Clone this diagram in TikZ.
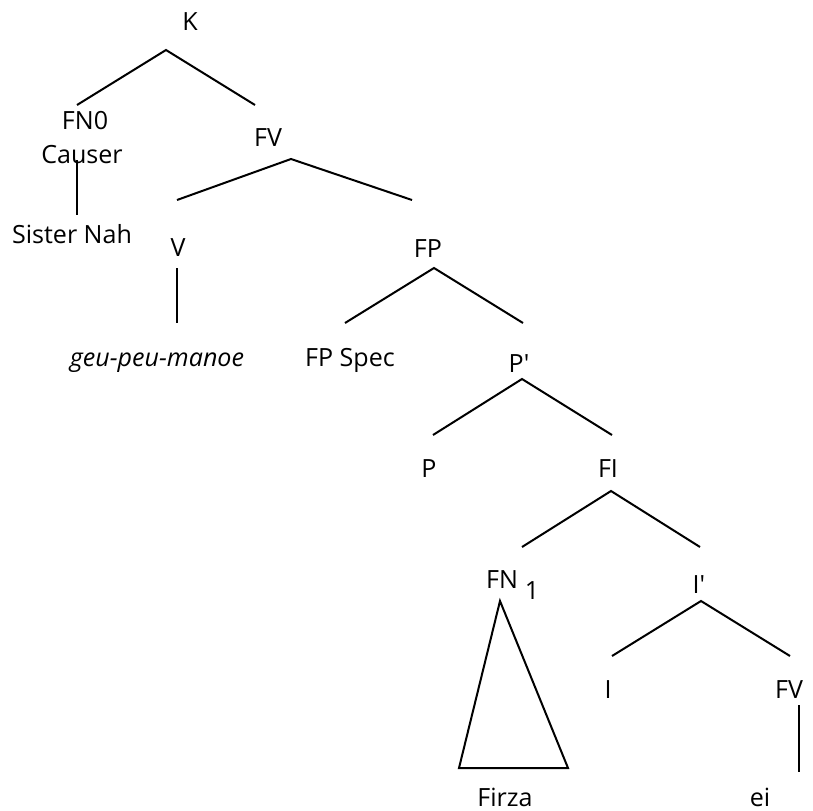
\documentclass[tikz,border=0pt]{standalone}
\usepackage{fontspec}
\setmainfont{Open Sans}
\usetikzlibrary{positioning}

\tikzset{
    lbl/.style={inner sep=0pt, anchor=base},
    branch/.style={line width=1.5pt, line join=miter}
}

\begin{document}
\begin{tikzpicture}[x=0.75pt, y=-0.75pt, font=\fontsize{18.8}{22}\selectfont]
    \useasboundingbox (0, 0) rectangle (813, 810);

    % labels, placed on their baselines
    \node[lbl] (K) at (190, 30) {K};
    \node[lbl] (FN0) at (85, 129) {FN0};
    \node[lbl] (Causer) at (82, 163) {Causer};
    \node[lbl] (Nah) at (72, 243) {Sister Nah};
    \node[lbl] (FVa) at (268, 146) {FV};
    \node[lbl] (V) at (178, 256) {V};
    \node[lbl] (manoe) at (157, 366) {\itshape geu-peu-manoe};
    \node[lbl] (FP) at (428, 257) {FP};
    \node[lbl] (Spec) at (350, 366) {FP Spec};
    \node[lbl] (Pbar) at (519, 372) {P\textquotesingle};
    \node[lbl] (P) at (429, 477) {P};
    \node[lbl] (FI) at (608, 477) {FI};
    \node[lbl] (FN) at (502, 588) {FN};
    \node[lbl] (idx) at (532, 599) {1};
    \node[lbl] (Ibar) at (699, 593) {I\textquotesingle};
    \node[lbl] (I) at (608, 698) {I};
    \node[lbl] (FVb) at (789, 698) {FV};
    \node[lbl] (Firza) at (505, 806) {Firza};
    \node[lbl] (ei) at (760, 806) {ei};

    % branch points
    \coordinate (K-t) at (166, 50);
    \coordinate (K-l) at (77, 105);
    \coordinate (K-r) at (255, 105);
    \coordinate (FN0-t) at (77, 160);
    \coordinate (Nah-b) at (77, 215);
    \coordinate (FVa-t) at (291, 159);
    \coordinate (FVa-l) at (177, 200);
    \coordinate (FVa-r) at (412, 200);
    \coordinate (V-t) at (177, 268);
    \coordinate (V-b) at (177, 323);
    \coordinate (FP-t) at (434, 268);
    \coordinate (FP-l) at (345, 323);
    \coordinate (FP-r) at (523, 323);
    \coordinate (Pbar-t) at (522, 379);
    \coordinate (Pbar-l) at (433, 435);
    \coordinate (Pbar-r) at (612, 435);
    \coordinate (FI-t) at (611, 491);
    \coordinate (FI-l) at (522, 547);
    \coordinate (FI-r) at (700, 547);
    \coordinate (tri-t) at (500, 601);
    \coordinate (tri-l) at (459, 768);
    \coordinate (tri-r) at (568, 768);
    \coordinate (Ibar-t) at (701, 601);
    \coordinate (Ibar-l) at (612, 656);
    \coordinate (Ibar-r) at (790, 656);
    \coordinate (FVb-t) at (799, 705);
    \coordinate (FVb-b) at (799, 772);

    \draw[branch] (K-l) -- (K-t) -- (K-r);
    \draw[branch] (FN0-t) -- (Nah-b);
    \draw[branch] (FVa-l) -- (FVa-t) -- (FVa-r);
    \draw[branch] (V-t) -- (V-b);
    \draw[branch] (FP-l) -- (FP-t) -- (FP-r);
    \draw[branch] (Pbar-l) -- (Pbar-t) -- (Pbar-r);
    \draw[branch] (FI-l) -- (FI-t) -- (FI-r);
    \draw[branch] (tri-t) -- (tri-l) -- (tri-r) -- cycle;
    \draw[branch] (Ibar-l) -- (Ibar-t) -- (Ibar-r);
    \draw[branch] (FVb-t) -- (FVb-b);
\end{tikzpicture}
\end{document}
